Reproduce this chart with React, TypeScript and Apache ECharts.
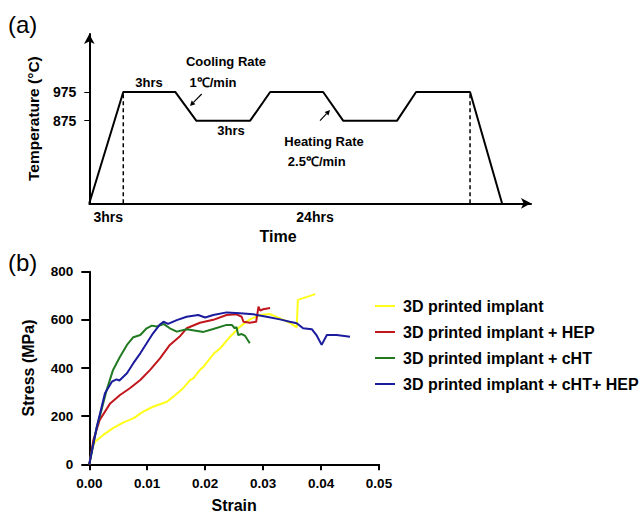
import React, { useEffect, useRef } from "react";
import * as echarts from "echarts";

// ---------- Panel (a): heat-treatment schedule (schematic) ----------
const profileTime = [0, 3.4, 8.6, 10.7, 16.1, 18.1, 23.4, 25.4, 30.8, 32.7, 38.1, 41.3];
const profileTemp = [587, 975, 975, 875, 875, 975, 975, 875, 875, 975, 975, 587];
const tempTickValues = [875, 975];
const dwellMarkTimes = [3.4, 38.1];

// ---------- Panel (b): stress-strain curves ----------
const seriesNames = [
  "3D printed implant",
  "3D printed implant + HEP",
  "3D printed implant + cHT",
  "3D printed implant + cHT+ HEP",
];
const seriesColors = ["#ffff1a", "#c0161c", "#217a21", "#1b1b9e"];

const yellowStrain = [0, 0.0006, 0.001, 0.0024, 0.0041, 0.0059, 0.0076, 0.0093, 0.011, 0.0134, 0.0145, 0.0162, 0.0174, 0.018, 0.0191, 0.0197, 0.0214, 0.0226, 0.0243, 0.026, 0.0277, 0.0295, 0.0312, 0.0329, 0.0346, 0.0358, 0.036, 0.039];
const yellowStress = [0, 73, 94, 122, 150, 174, 191, 219, 239, 260, 281, 316, 350, 358, 392, 405, 458, 482, 530, 572, 602, 620, 624, 606, 588, 569, 683, 707];

const redStrain = [0, 0.0007, 0.0018, 0.0036, 0.0053, 0.007, 0.0088, 0.0105, 0.0122, 0.0139, 0.0157, 0.0168, 0.0191, 0.0214, 0.0237, 0.0254, 0.0263, 0.0266, 0.0277, 0.0288, 0.0292, 0.0295, 0.03, 0.0312];
const redStress = [0, 101, 184, 253, 288, 316, 350, 392, 440, 496, 533, 565, 588, 600, 620, 623, 613, 592, 588, 592, 655, 638, 644, 649];

const greenStrain = [0, 0.0013, 0.0018, 0.003, 0.0041, 0.0053, 0.0065, 0.0076, 0.0088, 0.0099, 0.0108, 0.0116, 0.0128, 0.0139, 0.0151, 0.0168, 0.0197, 0.0214, 0.0237, 0.0246, 0.0251, 0.0254, 0.0257, 0.0263, 0.0269, 0.0277];
const greenStress = [0, 156, 198, 309, 392, 447, 496, 528, 537, 565, 576, 572, 583, 565, 551, 561, 550, 562, 579, 579, 565, 570, 537, 541, 533, 503];

const blueStrain = [0, 0.0013, 0.0027, 0.0039, 0.0047, 0.0052, 0.0065, 0.0076, 0.0088, 0.0099, 0.011, 0.0122, 0.0128, 0.0136, 0.0151, 0.0168, 0.0188, 0.02, 0.0214, 0.0237, 0.026, 0.0283, 0.0306, 0.0329, 0.0346, 0.0358, 0.0369, 0.0384, 0.0392, 0.0401, 0.041, 0.0427, 0.045];
const blueStress = [0, 156, 295, 343, 353, 348, 378, 420, 461, 503, 544, 581, 592, 583, 599, 613, 620, 610, 620, 631, 627, 623, 613, 602, 592, 586, 565, 561, 537, 496, 537, 537, 530];

const curveStrains = [yellowStrain, redStrain, greenStrain, blueStrain];
const curveStresses = [yellowStress, redStress, greenStress, blueStress];

const FONT = "'Liberation Sans', Arial, Helvetica, sans-serif";

function zip(xs: number[], ys: number[]) {
  return xs.map((x, i) => [x, ys[i]]);
}

function arrow(x1: number, y1: number, x2: number, y2: number) {
  const a = Math.atan2(y2 - y1, x2 - x1);
  const L = 5;
  const W = 2.6;
  const bx = x2 - L * Math.cos(a);
  const by = y2 - L * Math.sin(a);
  const px = -Math.sin(a) * W;
  const py = Math.cos(a) * W;
  return [
    { type: "line", shape: { x1, y1, x2: bx, y2: by }, style: { stroke: "#000", lineWidth: 1.2 } },
    {
      type: "polygon",
      shape: { points: [[x2, y2], [bx + px, by + py], [bx - px, by - py]] },
      style: { fill: "#000" },
    },
  ];
}

function label(text: string, x: number, y: number, size = 13, weight: any = "bold", align = "center") {
  return {
    type: "text",
    x,
    y,
    style: {
      text,
      fill: "#000",
      font: `${weight} ${size}px ${FONT}`,
      textAlign: align,
      textVerticalAlign: "middle",
    },
  };
}

export default function App() {
  const ref = useRef<HTMLDivElement>(null);

  useEffect(() => {
    document.body.style.margin = "0";
    if (!ref.current) return;
    const chart = echarts.init(ref.current, undefined, { renderer: "svg" });

    const axisBlack = { color: "#000", width: 2 };

    const option: any = {
      animation: false,
      backgroundColor: "#fff",
      textStyle: { fontFamily: FONT },
      grid: [
        { left: 89.3, right: 112, top: 34, bottom: 315.7 },
        { left: 89.3, right: 264, top: 271.7, bottom: 54.7 },
      ],
      xAxis: [
        {
          gridIndex: 0,
          type: "value",
          min: 0,
          max: 44.2,
          axisLine: { onZero: false, lineStyle: axisBlack, symbol: ["none", "arrow"], symbolSize: [8, 10] },
          axisTick: { show: false },
          axisLabel: { show: false },
          splitLine: { show: false },
        },
        {
          gridIndex: 1,
          type: "value",
          min: 0,
          max: 0.05,
          interval: 0.01,
          axisLine: { onZero: false, lineStyle: axisBlack },
          axisTick: { length: 6, lineStyle: axisBlack },
          axisLabel: {
            formatter: (v: number) => v.toFixed(2),
            fontSize: 13.5,
            fontWeight: "bold",
            color: "#000",
            margin: 12,
            fontFamily: FONT,
          },
          splitLine: { show: false },
          name: "Strain",
          nameLocation: "middle",
          nameGap: 33,
          nameTextStyle: { fontSize: 16, fontWeight: "bold", color: "#000", fontFamily: FONT, verticalAlign: "top" },
        },
      ],
      yAxis: [
        {
          gridIndex: 0,
          type: "value",
          min: 587,
          max: 1177,
          axisLine: { onZero: false, lineStyle: axisBlack, symbol: ["none", "arrow"], symbolSize: [8, 10] },
          axisTick: { show: true, customValues: tempTickValues, length: 5, lineStyle: { color: "#000", width: 1 } },
          axisLabel: {
            customValues: tempTickValues,
            fontSize: 14,
            fontWeight: "bold",
            color: "#000",
            margin: 13,
            fontFamily: FONT,
          },
          splitLine: { show: false },
          name: "Temperature (°C)",
          nameLocation: "middle",
          nameGap: 48,
          nameTextStyle: { fontSize: 15.5, fontWeight: "bold", color: "#000", fontFamily: FONT },
        },
        {
          gridIndex: 1,
          type: "value",
          min: 0,
          max: 800,
          interval: 200,
          axisLine: { onZero: false, lineStyle: axisBlack },
          axisTick: { length: 8, lineStyle: axisBlack },
          axisLabel: { fontSize: 13.5, fontWeight: "bold", color: "#000", margin: 16, fontFamily: FONT },
          splitLine: { show: false },
          name: "Stress (MPa)",
          nameLocation: "middle",
          nameGap: 53,
          nameTextStyle: { fontSize: 16, fontWeight: "bold", color: "#000", fontFamily: FONT },
        },
      ],
      legend: {
        orient: "vertical",
        left: 375,
        top: 298,
        padding: 0,
        icon: "rect",
        itemWidth: 20,
        itemHeight: 2,
        itemGap: 10,
        data: seriesNames,
        textStyle: { fontSize: 16, fontWeight: "bold", color: "#000", fontFamily: FONT, lineHeight: 16, padding: [0, 0, 0, 3] },
      },
      series: [
        {
          name: "Temperature profile",
          type: "line",
          xAxisIndex: 0,
          yAxisIndex: 0,
          data: zip(profileTime, profileTemp),
          symbol: "none",
          clip: false,
          lineStyle: { color: "#000", width: 2 },
        },
        ...dwellMarkTimes.map((t, i) => ({
          name: "dwell" + i,
          type: "line",
          xAxisIndex: 0,
          yAxisIndex: 0,
          data: [
            [t, profileTemp[0]],
            [t, 975],
          ],
          symbol: "none",
          clip: false,
          lineStyle: { color: "#000", width: 1.5, type: [4, 3] },
        })),
        ...seriesNames.map((name, i) => ({
          name,
          type: "line",
          xAxisIndex: 1,
          yAxisIndex: 1,
          data: zip(curveStrains[i], curveStresses[i]),
          symbol: "none",
          clip: false,
          lineStyle: { color: seriesColors[i], width: 2 },
          itemStyle: { color: seriesColors[i] },
        })),
      ],
      graphic: [
        label("(a)", 8, 24, 24, "normal", "left"),
        label("(b)", 8, 262, 24, "normal", "left"),
        label("3hrs", 149, 82),
        label("Cooling Rate", 226, 61),
        label("1℃/min", 213, 82.5),
        label("3hrs", 231, 130.5),
        label("Heating Rate", 324, 141),
        label("2.5℃/min", 316.7, 161),
        label("3hrs", 108.3, 216.5, 14),
        label("24hrs", 315, 216.5, 14),
        label("Time", 278, 236.5, 16),
        ...arrow(201.7, 94, 190, 106),
        ...arrow(320, 120.7, 330, 110),
      ],
    };

    chart.setOption(option);
    return () => chart.dispose();
  }, []);

  return <div ref={ref} style={{ width: 643, height: 519 }} />;
}
